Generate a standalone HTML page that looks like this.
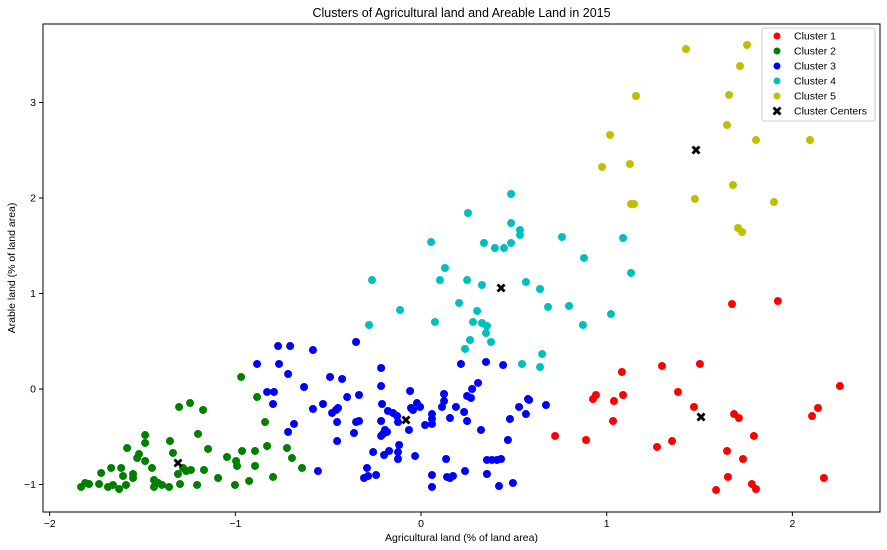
<!DOCTYPE html>
<html><head><meta charset="utf-8"><style>
body{margin:0;background:#fff;}
svg{display:block;font-family:"Liberation Sans","DejaVu Sans",sans-serif;}
</style></head><body>
<svg id="chart" width="887" height="550">
<rect x="0" y="0" width="887" height="550" fill="#fff"/>
<g id="marks"></g>
<g id="axes"></g>
</svg>
<script>
const c1x=[1.675,1.922,1.298,1.502,1.082,1.384,0.942,0.926,1.088,1.039,1.470,1.686,1.712,2.106,2.138,2.256,1.034,1.793,0.722,0.889,1.352,1.271,1.648,1.734,2.170,1.653,1.589,1.782,1.804];
const c1y=[0.890,0.921,0.241,0.262,0.178,-0.031,-0.063,-0.105,-0.063,-0.126,-0.188,-0.262,-0.304,-0.283,-0.199,0.031,-0.335,-0.492,-0.492,-0.534,-0.545,-0.607,-0.649,-0.733,-0.932,-0.921,-1.058,-0.995,-1.047];
const c2x=[-1.831,-1.809,-1.788,-1.734,-1.723,-1.686,-1.669,-1.659,-1.626,-1.615,-1.605,-1.589,-1.583,-1.551,-1.551,-1.529,-1.519,-1.486,-1.486,-1.486,-1.449,-1.438,-1.438,-1.416,-1.395,-1.357,-1.352,-1.336,-1.309,-1.303,-1.298,-1.282,-1.265,-1.244,-1.239,-1.201,-1.174,-1.206,-1.169,-1.147,-1.093,-1.045,-1.002,-0.996,-0.991,-0.969,-0.964,-0.926,-0.894,-0.894,-0.883,-0.840,-0.829,-0.797,-0.722,-0.695,-0.641];
const c2y=[-1.026,-0.984,-0.995,-0.995,-0.880,-1.026,-0.827,-1.005,-1.047,-0.827,-0.911,-1.005,-0.618,-0.890,-0.932,-0.723,-0.681,-0.482,-0.565,-0.754,-0.827,-0.953,-1.026,-0.984,-1.005,-1.026,-0.545,-0.670,-0.890,-0.188,-0.995,-0.827,-0.859,-0.147,-0.848,-0.471,-0.220,-1.005,-0.848,-0.628,-0.932,-0.712,-1.005,-0.754,-0.806,0.126,-0.649,-0.963,-0.649,-0.806,-0.084,-0.346,-0.597,-0.921,-0.618,-0.723,-0.827];
const c3x=[-0.770,-0.705,-0.582,-0.350,-0.883,-0.765,-0.716,-0.630,-0.829,-0.792,-0.797,-0.490,-0.425,-0.215,-0.215,-0.059,0.215,0.350,0.442,0.307,0.275,0.248,0.269,0.124,0.124,0.113,0.188,0.232,0.156,0.248,0.323,0.528,0.576,0.582,0.673,0.565,0.479,0.468,-0.582,-0.528,-0.479,-0.458,-0.447,-0.398,-0.334,-0.452,-0.684,-0.716,-0.452,-0.361,-0.350,-0.334,-0.210,-0.178,-0.151,-0.129,-0.124,-0.215,-0.194,-0.183,-0.215,-0.205,-0.065,-0.054,-0.043,-0.022,-0.005,0.059,0.059,0.059,0.022,-0.258,-0.199,-0.172,-0.118,-0.124,-0.124,-0.032,-0.291,-0.307,-0.285,-0.242,-0.555,0.059,0.059,0.135,0.140,0.156,0.172,0.237,0.355,0.382,0.409,0.431,0.355,0.420,0.495];
const c3y=[0.450,0.450,0.408,0.492,0.262,0.262,0.157,0.021,-0.031,-0.031,-0.157,0.126,0.105,0.220,0.031,-0.021,0.262,0.283,0.251,0.063,0.000,-0.073,-0.094,-0.052,-0.126,-0.188,-0.188,-0.241,-0.304,-0.335,-0.429,-0.188,-0.105,-0.115,-0.168,-0.262,-0.314,-0.534,-0.209,-0.157,-0.251,-0.220,-0.199,-0.084,-0.063,-0.346,-0.366,-0.450,-0.545,-0.461,-0.346,-0.335,-0.157,-0.230,-0.251,-0.283,-0.346,-0.335,-0.429,-0.450,-0.492,-0.471,-0.429,-0.199,-0.220,-0.147,-0.188,-0.262,-0.314,-0.366,-0.377,-0.660,-0.691,-0.649,-0.586,-0.660,-0.733,-0.702,-0.827,-0.932,-0.911,-0.901,-0.859,-0.901,-1.026,-0.733,-0.921,-0.932,-0.911,-0.859,-0.743,-0.743,-0.743,-0.733,-0.890,-1.016,-0.984];
const c4x=[0.485,0.253,0.485,0.533,0.533,0.054,0.339,0.398,0.447,0.485,0.759,1.088,0.878,0.129,-0.264,0.102,0.248,0.328,0.565,0.641,1.131,0.684,0.797,1.023,0.872,-0.113,0.205,0.302,0.075,0.280,0.328,0.355,0.350,-0.280,0.264,0.377,0.237,0.652,0.544,0.641];
const c4y=[2.042,1.843,1.738,1.665,1.613,1.539,1.529,1.476,1.476,1.529,1.592,1.581,1.372,1.267,1.141,1.141,1.141,1.089,1.120,1.047,1.215,0.859,0.869,0.785,0.670,0.827,0.901,0.817,0.702,0.702,0.691,0.660,0.586,0.670,0.513,0.492,0.419,0.366,0.262,0.230];
const c5x=[1.427,1.756,1.718,1.158,1.659,1.018,1.648,1.804,0.975,1.125,1.680,1.475,1.901,1.131,1.147,1.707,1.729,2.095];
const c5y=[3.560,3.602,3.382,3.068,3.079,2.660,2.764,2.607,2.325,2.356,2.136,1.990,1.958,1.937,1.937,1.686,1.644,2.607];
const centerX=[1.508,-1.309,-0.081,0.431,1.481];
const centerY=[-0.293,-0.775,-0.325,1.058,2.503];
const xTicks=[-2,-1,0,1,2];
const yTicks=[-1,0,1,2,3];
const seriesNames=["Cluster 1","Cluster 2","Cluster 3","Cluster 4","Cluster 5"];
const seriesColors=["#ff0000","#008000","#0000ff","#00bfbf","#bfbf00"];

const NS="http://www.w3.org/2000/svg";
const L=43,T=24,R=880,B=512;
const X0=-2.036,X1=2.472,Y0=-1.288,Y1=3.822;
function sx(v){return L+(v-X0)/(X1-X0)*(R-L);}
function sy(v){return B-(v-Y0)/(Y1-Y0)*(B-T);}
function mk(tag,attrs,parent){const e=document.createElementNS(NS,tag);for(const k in attrs)e.setAttribute(k,attrs[k]);parent.appendChild(e);return e;}
const marks=document.getElementById('marks');
const axes=document.getElementById('axes');
const xs=[c1x,c2x,c3x,c4x,c5x], ys=[c1y,c2y,c3y,c4y,c5y];
function xMarker(cx,cy,parent){
  return mk('path',{d:`M${cx-4.5},${cy-2.5} L${cx-2.5},${cy-4.5} L${cx},${cy-2} L${cx+2.5},${cy-4.5} L${cx+4.5},${cy-2.5} L${cx+2},${cy} L${cx+4.5},${cy+2.5} L${cx+2.5},${cy+4.5} L${cx},${cy+2} L${cx-2.5},${cy+4.5} L${cx-4.5},${cy+2.5} L${cx-2},${cy} Z`,fill:'#000'},parent);
}
for(let s=0;s<5;s++){
  for(let i=0;i<xs[s].length;i++){
    const c=mk('circle',{cx:sx(xs[s][i]),cy:sy(ys[s][i]),r:4,fill:seriesColors[s]},marks);
    
    
  }
}
for(let i=0;i<centerX.length;i++){
  const p=xMarker(sx(centerX[i]),sy(centerY[i]),marks);
  
  
}
const fr=mk('rect',{x:L,y:T,width:R-L,height:B-T,fill:'none',stroke:'#000','stroke-width':1},axes);


xTicks.forEach(v=>{
  const x=sx(v);
  mk('line',{x1:x,y1:B,x2:x,y2:B+4,stroke:'#000'},axes);
  const t=mk('text',{x:x,y:B+15,'text-anchor':'middle','font-size':10.5,fill:'#000'},axes);
  t.textContent=(v<0?'\u2212'+(-v):v);
  
  
});
yTicks.forEach(v=>{
  const y=sy(v);
  mk('line',{x1:L-4,y1:y,x2:L,y2:y,stroke:'#000'},axes);
  const t=mk('text',{x:L-7,y:y+3.5,'text-anchor':'end','font-size':10.5,fill:'#000'},axes);
  t.textContent=(v<0?'\u2212'+(-v):v);
  
  
});
const lg=mk('g',{},axes);


mk('rect',{x:762,y:28,width:113,height:93,rx:2,fill:'#fff','fill-opacity':0.9,stroke:'#ccc'},lg);
const names=seriesNames.concat(['Cluster Centers']);
names.forEach((n,i)=>{
  const y=36+i*15;
  if(i<5){mk('circle',{cx:777,cy:y,r:3.5,fill:seriesColors[i]},lg);}
  else{xMarker(777,y,lg);}
  const t=mk('text',{x:794,y:y+3.5,'font-size':10.5,fill:'#000'},lg);
  t.textContent=n;
  
  
});
const tt=mk('text',{x:461.5,y:17,'text-anchor':'middle','font-size':12.5,fill:'#000'},axes);
tt.textContent='Clusters of Agricultural land and Areable Land in 2015';


const xl=mk('text',{x:461.5,y:541,'text-anchor':'middle','font-size':10.5,fill:'#000'},axes);
xl.textContent='Agricultural land (% of land area)';


const yl=mk('text',{x:15,y:268,'text-anchor':'middle','font-size':10.5,fill:'#000',transform:'rotate(-90 15 268)'},axes);
yl.textContent='Arable land (% of land area)';


</script>
</body></html>
